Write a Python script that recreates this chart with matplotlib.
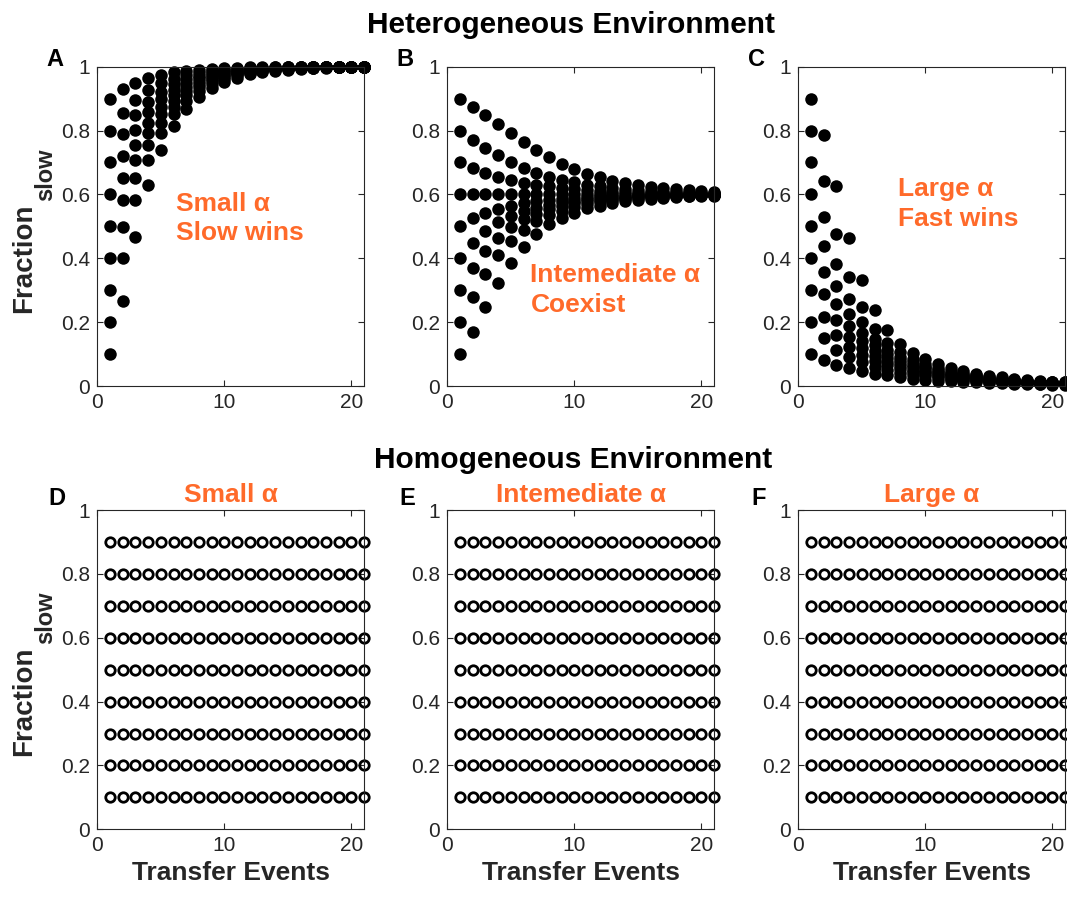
import matplotlib
matplotlib.use("Agg")
import matplotlib.pyplot as plt

plt.rcParams['font.family'] = ['Liberation Sans', 'DejaVu Sans']

transfers = list(range(1, 22))
start_fracs = [0.1, 0.2, 0.3, 0.4, 0.5, 0.6, 0.7, 0.8, 0.9]

# heterogeneous environment, small alpha (slow wins)
small_a = [
    [0.1, 0.266, 0.466, 0.628, 0.740, 0.815, 0.867, 0.905, 0.933, 0.952, 0.966, 0.976, 0.983, 0.988, 0.991, 0.994, 0.996, 0.997, 0.998, 0.998, 0.999],
    [0.2, 0.402, 0.583, 0.708, 0.793, 0.851, 0.893, 0.924, 0.946, 0.962, 0.973, 0.981, 0.986, 0.990, 0.993, 0.995, 0.997, 0.998, 0.998, 0.999, 0.999],
    [0.3, 0.499, 0.651, 0.755, 0.825, 0.874, 0.910, 0.936, 0.955, 0.968, 0.977, 0.984, 0.989, 0.992, 0.994, 0.996, 0.997, 0.998, 0.999, 0.999, 0.999],
    [0.4, 0.582, 0.708, 0.793, 0.851, 0.893, 0.924, 0.946, 0.962, 0.973, 0.981, 0.986, 0.990, 0.993, 0.995, 0.997, 0.998, 0.998, 0.999, 0.999, 1.0],
    [0.5, 0.652, 0.755, 0.825, 0.874, 0.910, 0.936, 0.955, 0.968, 0.977, 0.984, 0.989, 0.992, 0.994, 0.996, 0.997, 0.998, 0.999, 0.999, 0.999, 1.0],
    [0.6, 0.720, 0.802, 0.857, 0.898, 0.928, 0.949, 0.964, 0.974, 0.982, 0.987, 0.991, 0.994, 0.995, 0.997, 0.998, 0.998, 0.999, 0.999, 1.0, 1.0],
    [0.7, 0.788, 0.848, 0.891, 0.922, 0.945, 0.961, 0.972, 0.980, 0.986, 0.990, 0.993, 0.995, 0.997, 0.998, 0.998, 0.999, 0.999, 0.999, 1.0, 1.0],
    [0.8, 0.856, 0.897, 0.927, 0.948, 0.963, 0.974, 0.981, 0.987, 0.991, 0.993, 0.995, 0.997, 0.998, 0.998, 0.999, 0.999, 0.999, 1.0, 1.0, 1.0],
    [0.9, 0.929, 0.950, 0.965, 0.975, 0.982, 0.987, 0.991, 0.994, 0.995, 0.997, 0.998, 0.998, 0.999, 0.999, 0.999, 1.0, 1.0, 1.0, 1.0, 1.0],
]

# intermediate alpha (coexistence around 0.6)
mid_a = [
    [0.1, 0.170, 0.248, 0.323, 0.386, 0.436, 0.476, 0.506, 0.527, 0.543, 0.556, 0.565, 0.573, 0.579, 0.584, 0.587, 0.590, 0.592, 0.594, 0.595, 0.596],
    [0.2, 0.280, 0.351, 0.409, 0.454, 0.489, 0.517, 0.535, 0.549, 0.561, 0.569, 0.576, 0.581, 0.585, 0.589, 0.591, 0.593, 0.595, 0.596, 0.597, 0.597],
    [0.3, 0.368, 0.422, 0.464, 0.497, 0.523, 0.540, 0.553, 0.564, 0.572, 0.578, 0.583, 0.587, 0.590, 0.592, 0.594, 0.595, 0.596, 0.597, 0.598, 0.598],
    [0.4, 0.447, 0.484, 0.513, 0.532, 0.547, 0.559, 0.568, 0.575, 0.580, 0.585, 0.588, 0.591, 0.593, 0.594, 0.596, 0.597, 0.597, 0.598, 0.598, 0.599],
    [0.5, 0.525, 0.542, 0.554, 0.564, 0.572, 0.578, 0.583, 0.587, 0.590, 0.592, 0.594, 0.595, 0.596, 0.597, 0.598, 0.598, 0.599, 0.599, 0.599, 0.599],
    [0.6, 0.600, 0.600, 0.600, 0.600, 0.600, 0.600, 0.600, 0.600, 0.600, 0.600, 0.600, 0.600, 0.600, 0.600, 0.600, 0.600, 0.600, 0.600, 0.600, 0.600],
    [0.7, 0.682, 0.667, 0.655, 0.645, 0.637, 0.630, 0.625, 0.620, 0.617, 0.614, 0.611, 0.609, 0.608, 0.606, 0.605, 0.604, 0.603, 0.603, 0.602, 0.602],
    [0.8, 0.772, 0.746, 0.722, 0.702, 0.683, 0.668, 0.656, 0.646, 0.638, 0.631, 0.625, 0.621, 0.617, 0.614, 0.611, 0.609, 0.608, 0.606, 0.605, 0.604],
    [0.9, 0.875, 0.848, 0.820, 0.792, 0.764, 0.739, 0.716, 0.696, 0.679, 0.665, 0.653, 0.643, 0.636, 0.629, 0.624, 0.620, 0.616, 0.613, 0.611, 0.609],
]

# large alpha (fast wins)
large_a = [
    [0.1, 0.081, 0.066, 0.056, 0.047, 0.039, 0.033, 0.028, 0.023, 0.020, 0.017, 0.015, 0.013, 0.011, 0.009, 0.008, 0.007, 0.006, 0.005, 0.004, 0.004],
    [0.2, 0.149, 0.114, 0.091, 0.075, 0.061, 0.050, 0.042, 0.035, 0.030, 0.025, 0.021, 0.018, 0.016, 0.013, 0.012, 0.010, 0.009, 0.007, 0.006, 0.005],
    [0.3, 0.217, 0.161, 0.122, 0.096, 0.079, 0.065, 0.053, 0.044, 0.037, 0.031, 0.026, 0.022, 0.019, 0.016, 0.014, 0.012, 0.010, 0.009, 0.008, 0.007],
    [0.4, 0.287, 0.208, 0.154, 0.118, 0.093, 0.076, 0.063, 0.051, 0.043, 0.036, 0.030, 0.026, 0.022, 0.019, 0.016, 0.014, 0.012, 0.010, 0.009, 0.008],
    [0.5, 0.358, 0.258, 0.188, 0.141, 0.109, 0.087, 0.071, 0.059, 0.048, 0.040, 0.034, 0.029, 0.024, 0.020, 0.017, 0.015, 0.013, 0.011, 0.010, 0.008],
    [0.6, 0.438, 0.314, 0.227, 0.167, 0.127, 0.099, 0.081, 0.067, 0.055, 0.045, 0.038, 0.032, 0.027, 0.022, 0.019, 0.016, 0.014, 0.012, 0.010, 0.009],
    [0.7, 0.530, 0.382, 0.274, 0.199, 0.148, 0.114, 0.091, 0.075, 0.061, 0.050, 0.042, 0.035, 0.030, 0.025, 0.021, 0.018, 0.016, 0.013, 0.012, 0.010],
    [0.8, 0.642, 0.477, 0.342, 0.246, 0.180, 0.135, 0.105, 0.084, 0.069, 0.057, 0.046, 0.039, 0.033, 0.028, 0.023, 0.019, 0.017, 0.014, 0.012, 0.011],
    [0.9, 0.786, 0.626, 0.462, 0.331, 0.239, 0.176, 0.133, 0.103, 0.083, 0.068, 0.056, 0.046, 0.038, 0.032, 0.027, 0.023, 0.019, 0.016, 0.014, 0.012],
]

top_notes = ["Small α\nSlow wins", "Intemediate α\nCoexist", "Large α\nFast wins"]
note_pos = [(6.2, 0.525), (6.55, 0.30), (7.85, 0.57)]
bottom_titles = ["Small α", "Intemediate α", "Large α"]
top_letters = ["A", "B", "C"]
bottom_letters = ["D", "E", "F"]

ORANGE = '#FF6A2A'
GREY = '#262626'

W, H = 1067, 901
lefts = [97.3, 447.3, 798.3]


def style_axes(ax, bottom_row):
    ax.set_xlim(0, 21)
    ax.set_ylim(0, 1)
    ax.set_xticks([0, 10, 20])
    ax.set_yticks([0, 0.2, 0.4, 0.6, 0.8, 1])
    ax.set_yticklabels(['0', '0.2', '0.4', '0.6', '0.8', '1'])
    ax.tick_params(direction='in', top=True, right=True, length=4, width=0.8,
                   labelsize=15, colors=GREY, pad=5)
    for s in ax.spines.values():
        s.set_color(GREY)
        s.set_linewidth(0.8)
    if bottom_row:
        ax.set_xlabel("Transfer Events", fontsize=19, fontweight='bold', color=GREY, labelpad=4)


def frac_label(y_bottom):
    # "Fraction" with a large subscript "slow", written upward like the original
    fig.text(31.5 / W, 1 - y_bottom / H, "Fraction", fontsize=20, fontweight='bold', color=GREY,
             rotation=90, rotation_mode='anchor', ha='left', va='baseline')
    fig.text(52 / W, 1 - (y_bottom - 112) / H, "slow", fontsize=17, fontweight='bold', color=GREY,
             rotation=90, rotation_mode='anchor', ha='left', va='baseline')


fig = plt.figure(figsize=(W / 100, H / 100), dpi=100)

# top row
for i, traj in enumerate([small_a, mid_a, large_a]):
    ax = fig.add_axes([lefts[i] / W, (H - 386) / H, 266.7 / W, 319.3 / H])
    for ys in traj:
        ax.plot(transfers, ys, 'o', color='black', markersize=9, markeredgewidth=0, clip_on=False)
    style_axes(ax, False)
    ax.text(note_pos[i][0], note_pos[i][1], top_notes[i], color=ORANGE, fontsize=19,
            fontweight='bold', ha='left', va='center', linespacing=1.3)
    fig.text((lefts[i] - 42) / W, 1 - 59 / H, top_letters[i], fontsize=17, fontweight='bold',
             ha='center', va='center')

# bottom row (homogeneous: fractions stay put)
for i in range(3):
    ax = fig.add_axes([lefts[i] / W, (H - 829.3) / H, 266.7 / W, 319.3 / H])
    for f in start_fracs:
        ax.plot(transfers, [f] * len(transfers), 'o', color='black', mfc='none',
                markersize=6.8, markeredgewidth=2.0, clip_on=False)
    style_axes(ax, True)
    ax.set_title(bottom_titles[i], color=ORANGE, fontsize=19, fontweight='bold', pad=6)
    fig.text((lefts[i] - 40) / W, 1 - 498 / H, bottom_letters[i], fontsize=17, fontweight='bold',
             ha='center', va='center')

fig.text(571 / W, 1 - 33 / H, "Heterogeneous Environment", fontsize=21.5, fontweight='bold',
         ha='center', va='baseline')
fig.text(573 / W, 1 - 468 / H, "Homogeneous Environment", fontsize=21.5, fontweight='bold',
         ha='center', va='baseline')

frac_label(313)
frac_label(756)

fig.savefig("out.png", dpi=100)
